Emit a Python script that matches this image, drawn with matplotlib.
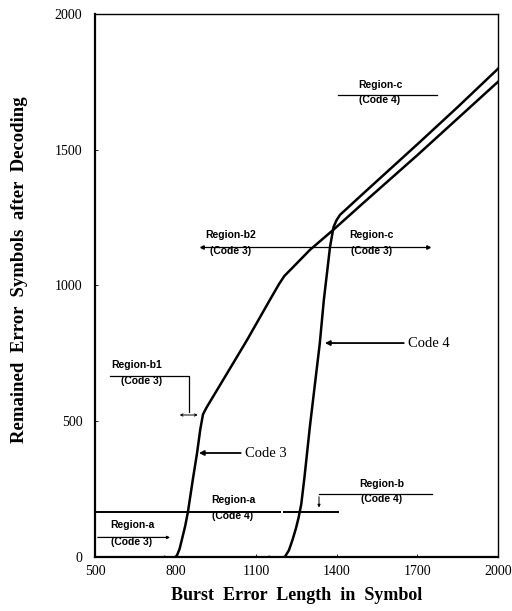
import matplotlib
matplotlib.use("Agg")
import matplotlib.pyplot as plt

# Code 3 curve (burst length, remained error symbols)
code3_x = [760, 775, 790, 805, 815, 825, 836, 846, 865, 880, 892, 902, 915, 1000, 1066,
           1150, 1185, 1205, 1230, 1300, 1386, 1500, 1700, 1850, 2000]
code3_y = [0, -4, -6, 5, 30, 70, 115, 166, 290, 383, 470, 525, 550, 690, 799,
           945, 1005, 1035, 1060, 1131, 1204, 1305, 1480, 1615, 1750]

# Code 4 curve
code4_x = [1150, 1170, 1190, 1208, 1222, 1235, 1248, 1258, 1268, 1280, 1300, 1337, 1352,
           1375, 1388, 1399, 1412, 1500, 1700, 1850, 2000]
code4_y = [0, -4, -6, 2, 25, 62, 105, 145, 195, 295, 480, 788, 947,
           1142, 1215, 1240, 1260, 1340, 1520, 1657, 1798]

xticks = [500, 800, 1100, 1400, 1700, 2000]
yticks = [0, 500, 1000, 1500, 2000]

serif = "Liberation Serif"
sans = "Liberation Sans"

fig = plt.figure(figsize=(5.12, 6.11), dpi=100)
ax = fig.add_axes([0.1855, 0.0884, 0.787, 0.8887])

ax.plot(code3_x, code3_y, color="black", lw=1.8, solid_joinstyle="round")
ax.plot(code4_x, code4_y, color="black", lw=1.8, solid_joinstyle="round")

ax.set_xlim(500, 2000)
ax.set_ylim(0, 2000)
ax.set_xticks(xticks)
ax.set_yticks(yticks)
ax.tick_params(direction="in", length=2, width=0.6, labelsize=10)
ax.tick_params(axis="y", pad=9)
ax.tick_params(axis="x", pad=6)
for lab in ax.get_xticklabels() + ax.get_yticklabels():
    lab.set_fontfamily(serif)
for sp in ax.spines.values():
    sp.set_linewidth(1.0)
ax.spines["left"].set_linewidth(1.6)
ax.spines["bottom"].set_linewidth(1.6)

ax.set_xlabel("Burst  Error  Length  in  Symbol", fontfamily=serif,
              fontsize=13, fontweight="bold", labelpad=6)
ax.set_ylabel("Remained  Error  Symbols  after  Decoding", fontfamily=serif,
              fontsize=13.5, fontweight="bold")
ax.yaxis.set_label_coords(-0.165, 0.53)

lab_kw = dict(fontfamily=sans, fontsize=7.5, fontweight="bold", ha="center", va="center")
line_kw = dict(color="black", lw=0.9)

# Region-c (Code 4)
ax.plot([1405, 1773], [1700, 1700], **line_kw)
ax.text(1561, 1740, "Region-c", **lab_kw)
ax.text(1561, 1683, "(Code 4)", **lab_kw)

# Region-b2 / Region-c (Code 3)
ax.plot([897, 1740], [1143, 1143], **line_kw)
ax.plot([897], [1143], marker="<", ms=2.5, color="black")
ax.plot([1740], [1143], marker=">", ms=2.5, color="black")
ax.text(1006, 1186, "Region-b2", **lab_kw)
ax.text(1006, 1126, "(Code 3)", **lab_kw)
ax.text(1531, 1186, "Region-c", **lab_kw)
ax.text(1531, 1126, "(Code 3)", **lab_kw)

# Region-b1 (Code 3)
ax.plot([556, 851, 851], [667, 667, 534], **line_kw)
ax.annotate("", xy=(805, 523), xytext=(893, 523),
            arrowprops=dict(arrowstyle="<->", lw=0.7, mutation_scale=4, color="black"))
ax.text(656, 708, "Region-b1", **lab_kw)
ax.text(672, 650, "(Code 3)", **lab_kw)

# Region-a (Code 4)
ax.plot([500, 1188], [166, 166], color="black", lw=1.4)
ax.plot([1205, 1405], [166, 166], color="black", lw=1.4)
ax.text(1017, 209, "Region-a", **lab_kw)
ax.text(1013, 150, "(Code 4)", **lab_kw)

# Region-b (Code 4)
ax.plot([1754, 1334], [231, 231], **line_kw)
ax.annotate("", xy=(1334, 172), xytext=(1334, 232),
            arrowprops=dict(arrowstyle="-|>", lw=0.7, mutation_scale=4, color="black"))
ax.text(1568, 270, "Region-b", **lab_kw)
ax.text(1568, 212, "(Code 4)", **lab_kw)

# Region-a (Code 3)
ax.annotate("", xy=(790, 72), xytext=(500, 72),
            arrowprops=dict(arrowstyle="-|>", lw=0.9, mutation_scale=4, color="black"))
ax.text(638, 116, "Region-a", **lab_kw)
ax.text(638, 54, "(Code 3)", **lab_kw)

# curve callouts
ax.annotate("Code 3", xy=(887, 383), xytext=(1058, 383), fontfamily=serif, fontsize=10.5,
            va="center", ha="left",
            arrowprops=dict(arrowstyle="-|>", lw=1.3, mutation_scale=7, color="black",
                            shrinkA=1, shrinkB=0))
ax.annotate("Code 4", xy=(1356, 788), xytext=(1665, 788), fontfamily=serif, fontsize=10.5,
            va="center", ha="left",
            arrowprops=dict(arrowstyle="-|>", lw=1.3, mutation_scale=7, color="black",
                            shrinkA=1, shrinkB=0))

fig.savefig("out.png", dpi=100)
